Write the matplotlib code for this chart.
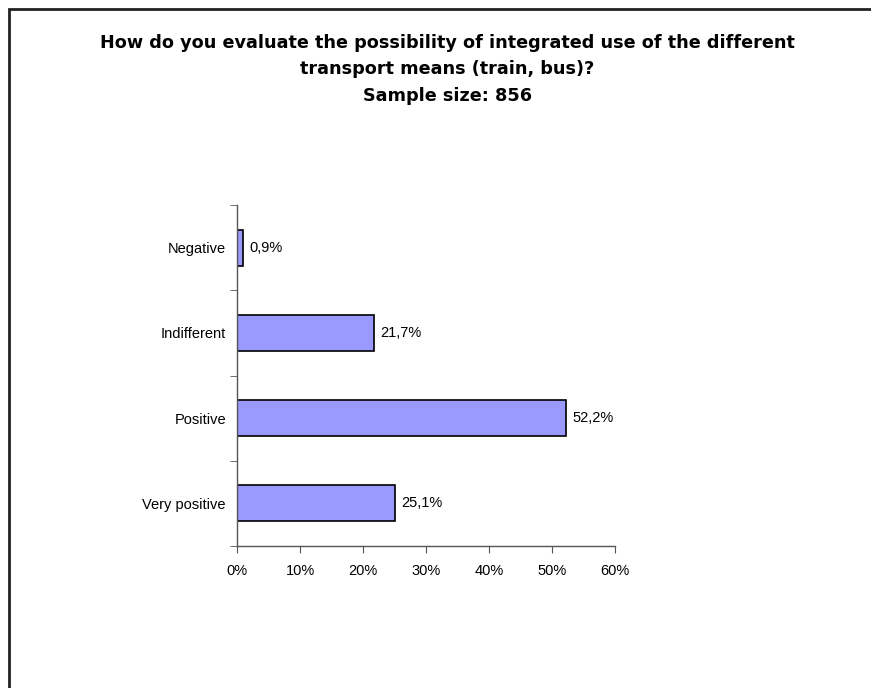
import matplotlib
matplotlib.use("Agg")
import matplotlib.pyplot as plt
from matplotlib.patches import Rectangle

categories = ["Very positive", "Positive", "Indifferent", "Negative"]
values = [25.1, 52.2, 21.7, 0.9]
xticks = [0, 10, 20, 30, 40, 50, 60]
xticklabels = ["0%", "10%", "20%", "30%", "40%", "50%", "60%"]
title_lines = ["How do you evaluate the possibility of integrated use of the different",
               "transport means (train, bus)?",
               "Sample size: 856"]

plt.rcParams['font.family'] = ['Liberation Sans', 'DejaVu Sans']

W, H = 871, 688
fig = plt.figure(figsize=(W/100, H/100), dpi=100)

# outer frame (right and bottom edges lie outside the image)
fig.patches.append(Rectangle((8.5/W, -0.05), 1.2, 1.05 - 9.5/H,
                             transform=fig.transFigure, fill=False,
                             edgecolor='#222222', linewidth=2))

left, right = 237/W, 615/W
top, bottom = 1 - 205/H, 1 - 546/H
ax = fig.add_axes([left, bottom, right - left, top - bottom])

y = list(range(len(categories)))
ax.barh(y, values, height=0.42, color='#9999ff', edgecolor='black', linewidth=1.2)
for yi, v in zip(y, values):
    ax.text(v + 1.0, yi, f"{v:.1f}%".replace('.', ','), va='center', ha='left', fontsize=10.5)

ax.set_xlim(0, 60)
ax.set_ylim(-0.5, len(categories) - 0.5)
ax.set_xticks(xticks)
ax.set_xticklabels(xticklabels, fontsize=10.5)
ax.set_yticks(y)
ax.set_yticklabels(categories, fontsize=10.5)
ax.tick_params(axis='y', length=0, pad=8)
ax.set_yticks([i - 0.5 for i in range(len(categories) + 1)], minor=True)
ax.tick_params(axis='y', which='minor', length=5, direction='out', color='#555555')
ax.tick_params(axis='x', length=5, direction='out', color='#555555', pad=8)
for s in ['top', 'right']:
    ax.spines[s].set_visible(False)
for s in ['left', 'bottom']:
    ax.spines[s].set_color('#555555')
    ax.spines[s].set_linewidth(1.0)

baselines = [48, 74.5, 101]
for line, b in zip(title_lines, baselines):
    fig.text(447.5/W, 1 - b/H, line, ha='center', va='baseline', fontsize=12.7,
             fontweight='bold', family=['DejaVu Sans'])

fig.savefig("out.png", dpi=100, facecolor='white')
